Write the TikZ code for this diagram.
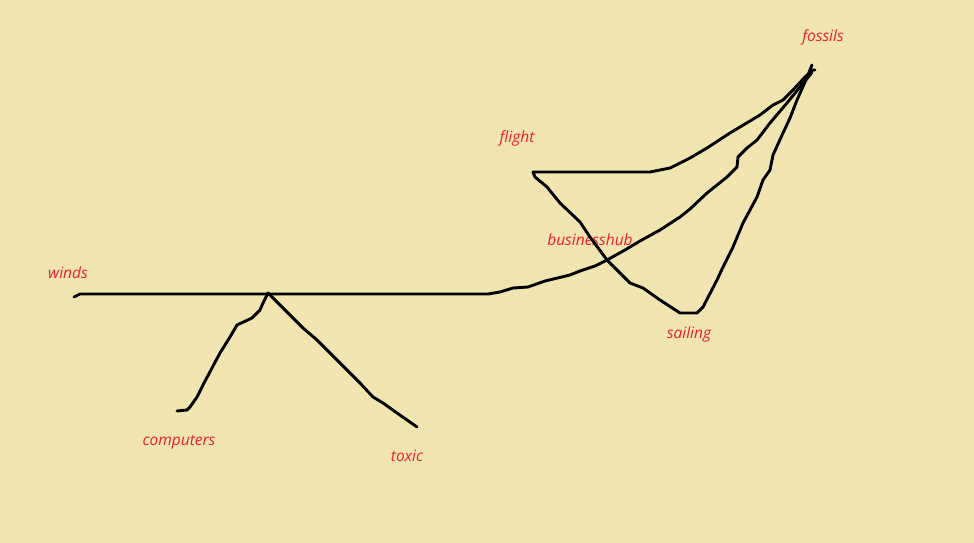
\documentclass[tikz,border=0pt]{standalone}
\usepackage{fontspec}
\setmainfont{Open Sans}
\usetikzlibrary{positioning}
\definecolor{paper}{RGB}{240,228,177}
\definecolor{inkred}{RGB}{236,32,40}
\tikzset{
  word/.style={font=\itshape\fontsize{15.5}{18}\selectfont, text=inkred, inner sep=0pt},
  pen/.style={line width=2.9pt, line cap=round, line join=round, black}
}

\begin{document}
\begin{tikzpicture}[x=1pt,y=-1pt]
\fill[paper] (0,0) rectangle (974,543);
\useasboundingbox (0,0) rectangle (974,543);
\node[word] (winds) at (68,273) {winds};
\node[word] (computers) at (179,442) {computers};
\node[word] (toxic) at (407,456) {toxic};
\node[word] (flight) at (517,138) {flight};
\node[word] (hub) at (590,240) {businesshub};
\node[word] (sailing) at (689,334) {sailing};
\node[word] (fossils) at (823,37) {fossils};
\coordinate (windsend) at (74,297);
\coordinate (compend) at (177,411);
\coordinate (toxicend) at (417,427);
\coordinate (peak) at (268,293);
\coordinate (corner) at (533,172);
\coordinate (tip) at (812,65);
% winds to fossils
\draw[pen] (windsend) -- (80,294) -- (488,294) -- (500,292) -- (513,288) -- (528,287)
  -- (545,281) -- (570,275) -- (580,271) -- (595,266) -- (607,260) -- (625,250)
  -- (640,241) -- (660,230) -- (680,217) -- (690,209) -- (707,193) -- (727,177)
  -- (737,167) -- (738,157) -- (747,148) -- (757,140) -- (770,123) -- (787,103)
  -- (800,87) -- (810,75) -- (812,72);
% computers and toxic
\draw[pen] (compend) -- (187,410) -- (190,407) -- (197,397) -- (203,385) -- (212,368)
  -- (220,353) -- (230,337) -- (237,325) -- (252,318) -- (260,310) -- (263,303) -- (peak);
\draw[pen] (peak) -- (280,305) -- (303,328) -- (317,340) -- (340,363) -- (360,383)
  -- (373,397) -- (383,403) -- (397,413) -- (toxicend);
% flight to fossils, top line
\draw[pen] (corner) -- (650,172) -- (670,168) -- (690,158) -- (707,148) -- (730,133)
  -- (760,115) -- (773,105) -- (783,100) -- (793,90) -- (805,77) -- (813,70) -- (815,70);
% flight, sailing, fossils
\draw[pen] (corner) -- (535,177) -- (547,187) -- (560,203) -- (580,222) -- (590,237)
  -- (607,260) -- (630,283) -- (643,288) -- (660,300) -- (680,313) -- (697,313)
  -- (703,307) -- (717,280) -- (723,267) -- (733,247) -- (743,223) -- (757,197)
  -- (763,180) -- (770,170) -- (773,155) -- (783,133) -- (790,118) -- (797,100)
  -- (805,82) -- (808,75) -- (tip);
\end{tikzpicture}
\end{document}
